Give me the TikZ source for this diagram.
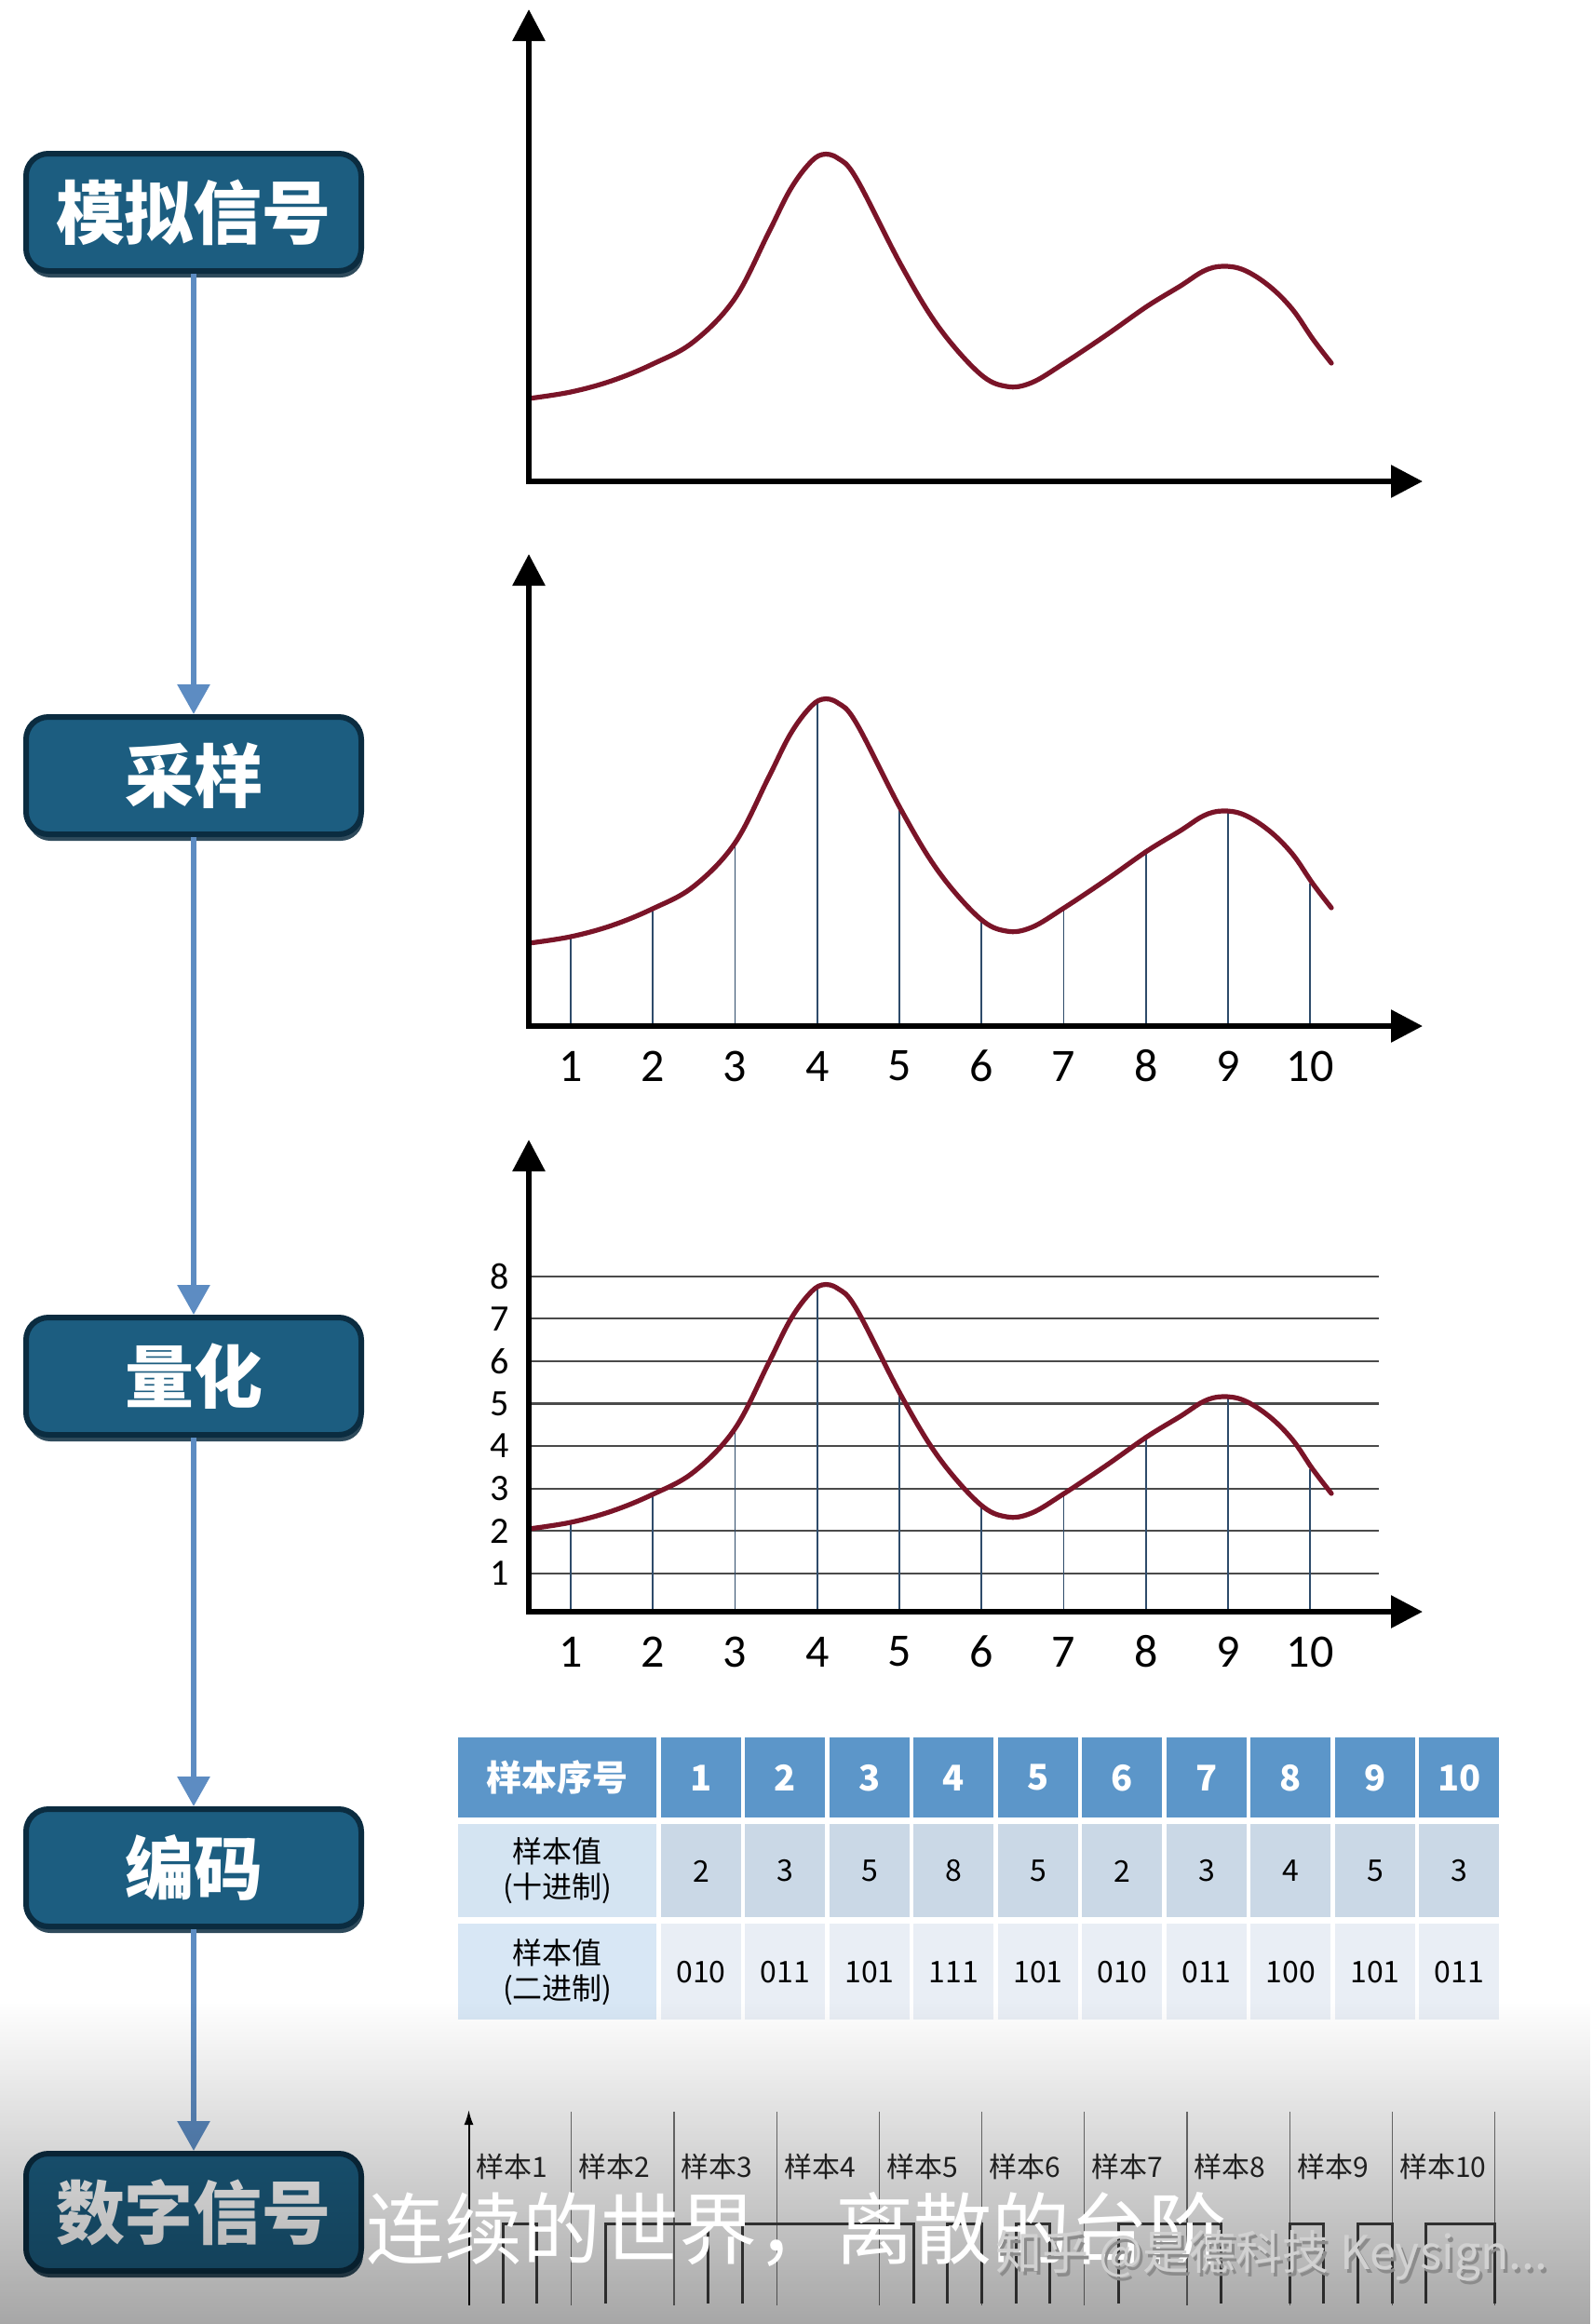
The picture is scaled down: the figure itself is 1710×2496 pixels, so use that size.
\documentclass[tikz,border=0pt]{standalone}
\usepackage{fontspec}
\newfontfamily\cjk{Noto Sans CJK SC}
\newfontfamily\numfont{Carlito}
\usetikzlibrary{arrows.meta,shadows,fadings}

\definecolor{boxfill}{HTML}{1C5D80}
\definecolor{boxline}{HTML}{0B2C40}
\definecolor{flowblue}{HTML}{5D8CC2}
\definecolor{curvered}{HTML}{7A1428}
\definecolor{stemblue}{HTML}{2E4B6A}
\definecolor{gridgray}{HTML}{4A4A4A}
\definecolor{headblue}{HTML}{5C96C9}
\definecolor{decgray}{HTML}{CAD8E6}
\definecolor{decfirst}{HTML}{D4E4F2}
\definecolor{binwhite}{HTML}{E9EEF5}
\definecolor{binfirst}{HTML}{D8E7F5}

\tikzstyle{stage}=[rectangle,
                   rounded corners=12pt,
                   line width=3pt,
                   draw=boxline,
                   fill=boxfill,
                   text=white,
                   minimum width=180pt,
                   minimum height=63pt,
                   font=\cjk\bfseries\fontsize{37}{40}\selectfont,
                   drop shadow={shadow xshift=1pt, shadow yshift=-3.5pt,
                                fill=boxline, opacity=0.85}]
\tikzstyle{flow}=[draw=flowblue, line width=3pt,
                  -{Triangle[length=16pt,width=17pt]}]
\tikzstyle{axis}=[line width=3pt,
                  {Triangle[length=17pt,width=17pt]}-{Triangle[length=17pt,width=17pt]}]
\tikzstyle{signal}=[draw=curvered, line width=2.6pt, line cap=round, line join=round]
\tikzstyle{stem}=[draw=stemblue, line width=0.8pt]
\tikzstyle{grid}=[draw=gridgray, line width=1.1pt]
\tikzstyle{tick}=[inner sep=0pt, font=\numfont\fontsize{25}{28}\selectfont]
\tikzstyle{level}=[inner sep=0pt, font=\numfont\fontsize{20}{24}\selectfont]
\tikzstyle{cell}=[rectangle, inner sep=0pt, outer sep=0pt,
                  minimum width=43pt,
                  font=\cjk\fontsize{16}{19}\selectfont]
\tikzstyle{headcell}=[cell, fill=headblue, text=white, minimum height=43pt,
                      font=\cjk\bfseries\fontsize{19}{22}\selectfont]
\tikzstyle{deccell}=[cell, fill=decgray, minimum height=50pt]
\tikzstyle{bincell}=[cell, fill=binwhite, minimum height=51.5pt]
\tikzstyle{firstcol}=[minimum width=106.5pt, align=center]
\tikzstyle{slot}=[draw=black!55, line width=0.6pt]
\tikzstyle{slotlabel}=[anchor=west, inner sep=0pt, text=black!85,
                       font=\cjk\fontsize{15}{18}\selectfont]
\tikzstyle{pulse}=[draw=black!75, line width=1.5pt]

\begin{document}
\begin{tikzpicture}[x=0.5pt, y=-0.5pt, >=latex]
  \useasboundingbox[fill=white] (0,0) rectangle (1710,2496);

  \node (analog)  [stage] at (208,228)  {模拟信号};
  \node (sampled) [stage] at (208,833)  {采样};
  \node (quant)   [stage] at (208,1478) {量化};
  \node (coded)   [stage] at (208,2006) {编码};
  \node (digital) [stage] at (208,2376) {数字信号};

  % The stages are now connected through arrows:
  \path
      (analog)  edge[flow] (sampled)
      (sampled) edge[flow] (quant)
      (quant)   edge[flow] (coded)
      (coded)   edge[flow] (digital)
;

  % analog, sampled and quantized plots
  \foreach \oy [count=\n] in {517,1102,1731} {
    \begin{scope}[shift={(568,\oy)}, yscale=-1]
      \ifnum\n=3
        \foreach \lv in {1,...,8} {
          \draw[grid] (0,{45.6*\lv-4.5}) -- (913,{45.6*\lv-4.5});
          \node (lv\lv) [level] at (-31,{45.6*\lv-4.5}) {\lv};
        }
      \fi
      \ifnum\n>1
        \foreach \h [count=\k] in {96,126,198,351,234,112,127,188,229,153} {
          \draw[stem] ({45+(\k-1)*88.25},0) -- ++(0,\h);
          \node (t\n-\k) [tick] at ({45+(\k-1)*88.25},-43) {\k};
        }
      \fi
      \draw[signal] plot[smooth, tension=0.6] coordinates {
        (0,89) (45,96) (89,108) (133,126) (177,150) (221,196) (257,266)
        (280,312) (300,340) (315,351) (332,347) (352,325) (400,232)
        (440,166) (484,116) (513,102) (540,106) (575,127) (620,157)
        (664,188) (700,210) (725,226) (745,231) (768,227) (795,210)
        (820,185) (842,153) (862,127)};
      \draw[axis] (0,507) -- (0,0) -- (960,0);
    \end{scope}
  }

  \matrix (table) [anchor=north west, inner sep=0pt,
                   row sep=3.5pt, column sep=2.25pt] at (492,1866) {
    \node (hd) [headcell, firstcol] {样本序号}; &
    \node (h1) [headcell] {1}; & \node (h2) [headcell] {2}; &
    \node (h3) [headcell] {3}; & \node (h4) [headcell] {4}; &
    \node (h5) [headcell] {5}; & \node (h6) [headcell] {6}; &
    \node (h7) [headcell] {7}; & \node (h8) [headcell] {8}; &
    \node (h9) [headcell] {9}; & \node (h10) [headcell] {10}; \\
    \node (dd) [deccell, firstcol, fill=decfirst] {样本值\\(十进制)}; &
    \node (d1) [deccell] {2}; & \node (d2) [deccell] {3}; &
    \node (d3) [deccell] {5}; & \node (d4) [deccell] {8}; &
    \node (d5) [deccell] {5}; & \node (d6) [deccell] {2}; &
    \node (d7) [deccell] {3}; & \node (d8) [deccell] {4}; &
    \node (d9) [deccell] {5}; & \node (d10) [deccell] {3}; \\
    \node (bd) [bincell, firstcol, fill=binfirst] {样本值\\(二进制)}; &
    \node (b1) [bincell] {010}; & \node (b2) [bincell] {011}; &
    \node (b3) [bincell] {101}; & \node (b4) [bincell] {111}; &
    \node (b5) [bincell] {101}; & \node (b6) [bincell] {010}; &
    \node (b7) [bincell] {011}; & \node (b8) [bincell] {100}; &
    \node (b9) [bincell] {101}; & \node (b10) [bincell] {011}; \\
  };

  % coded bit stream
  \draw[line width=1pt, -{Latex[length=8pt,width=5pt]}] (503.5,2476) -- (503.5,2266);
  \foreach \k in {1,...,10} {
    \draw[slot] ({503.5+\k*110.2},2268) -- ({503.5+\k*110.2},2476);
    \node (lab\k) [slotlabel] at ({511+(\k-1)*110.2},2327) {样本\k};
  }
  \foreach \a/\b in {1/2,4/7,8/13,14/15,16/17,19/22,24/25,26/27,28/30}
    \draw[pulse] ({503.5+\a*36.73},2474) -- ({503.5+\a*36.73},2388)
                 -- ({503.5+\b*36.73},2388) -- ({503.5+\b*36.73},2474);

  \fill[black, fill opacity=0.45, path fading=north] (0,2150) rectangle (1710,2600);

  \node (motto) at (855,2394) [text=white, font=\cjk\fontsize{42}{46}\selectfont]
        {连续的世界，离散的台阶};
  \node (wmshade) at (1369,2427) [text=black!45, font=\cjk\fontsize{25}{28}\selectfont]
        {知乎 @是德科技 Keysign...};
  \node (wm) at (1366,2423) [text=black!18, font=\cjk\fontsize{25}{28}\selectfont]
        {知乎 @是德科技 Keysign...};
\end{tikzpicture}
\end{document}
